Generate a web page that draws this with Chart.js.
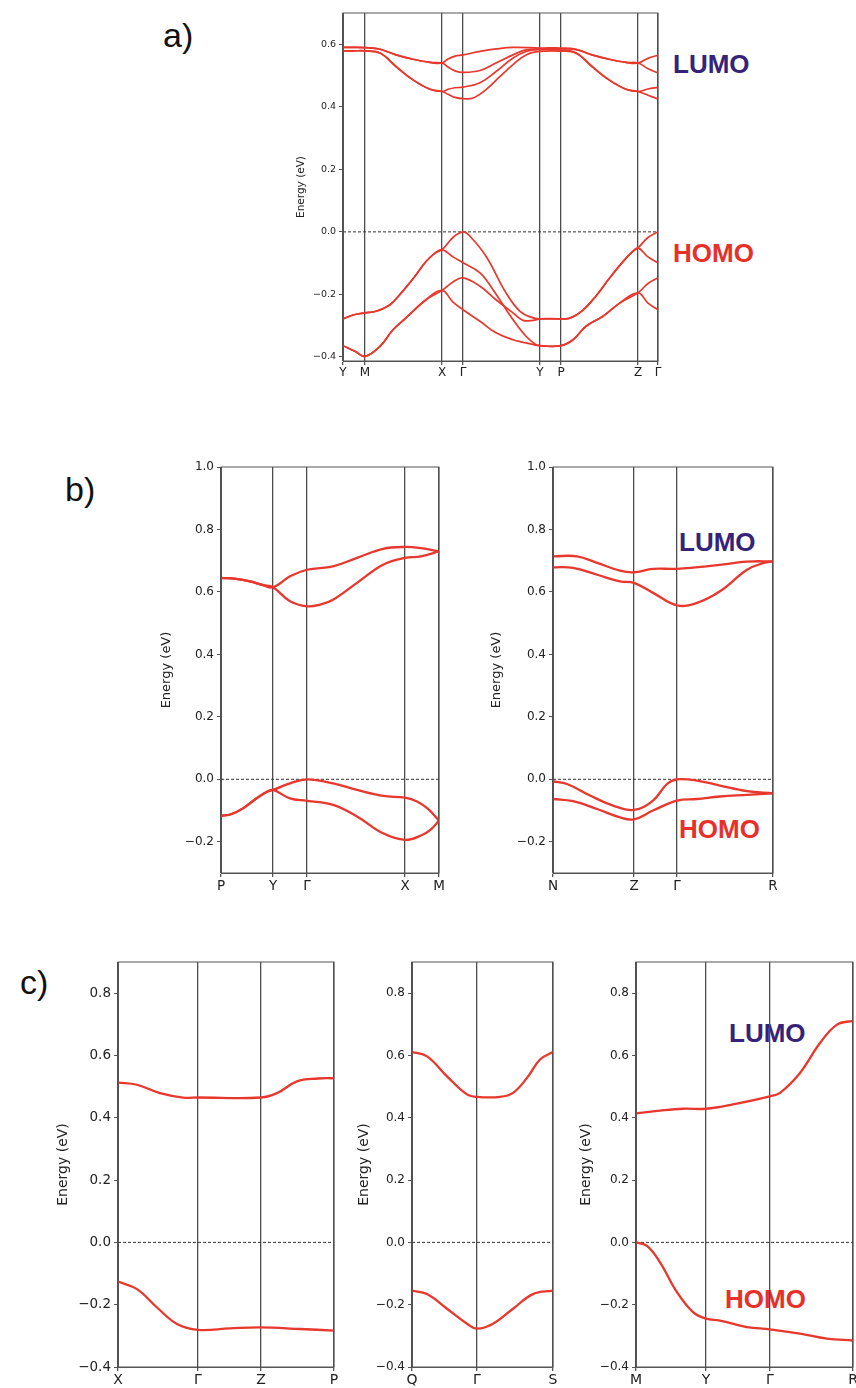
<!DOCTYPE html>
<html><head><meta charset="utf-8">
<script src="https://cdn.jsdelivr.net/npm/chart.js@4"></script>
<style>
html,body{margin:0;padding:0;background:#fff;width:856px;height:1388px;overflow:hidden;position:relative}
.box{position:absolute}
.lab{position:absolute;font-family:'Liberation Sans',Arial,sans-serif;white-space:nowrap;line-height:1}
.lumo{color:#35237a;font-weight:bold;font-size:26px}
.homo{color:#e8302a;font-weight:bold;font-size:26px}
.pl{font-size:34px;color:#111}
</style></head><body>
<div class="lab pl" style="left:163px;top:18px">a)</div>
<div class="lab pl" style="left:65px;top:472px">b)</div>
<div class="lab pl" style="left:20px;top:965px">c)</div>
<div class="lab lumo" style="left:673px;top:51px">LUMO</div>
<div class="lab homo" style="left:673px;top:240px">HOMO</div>
<div class="lab lumo" style="left:679px;top:529px">LUMO</div>
<div class="lab homo" style="left:679px;top:816px">HOMO</div>
<div class="lab lumo" style="left:729px;top:1020px">LUMO</div>
<div class="lab homo" style="left:725px;top:1286px">HOMO</div>
<script>
// ---------- panel a ----------
const kTicksA = [0, 22, 99, 120, 197, 218, 295, 315];
const kLabelsA = ['Y', 'M', 'X', 'Γ', 'Y', 'P', 'Z', 'Γ'];
const yTicksA = [-0.4, -0.2, 0.0, 0.2, 0.4, 0.6];
const lumoA1 = [[0,0.590],[11,0.590],[22,0.589],[37,0.584],[53,0.566],[70,0.552],[87,0.542],[99,0.540],[105,0.553],[112,0.562],[120,0.566],[137,0.577],[153,0.585],[170,0.590],[197,0.588],[218,0.588],[233,0.584],[249,0.566],[266,0.552],[283,0.542],[295,0.540],[305,0.555],[315,0.565]];
const lumoA2 = [[0,0.590],[11,0.590],[22,0.589],[37,0.584],[53,0.566],[70,0.552],[87,0.542],[99,0.540],[105,0.527],[112,0.515],[120,0.510],[137,0.516],[153,0.540],[170,0.566],[183,0.582],[197,0.585],[218,0.585],[233,0.583],[249,0.566],[266,0.552],[283,0.542],[295,0.540],[305,0.522],[315,0.508]];
const lumoA3 = [[0,0.579],[11,0.579],[22,0.579],[37,0.572],[53,0.529],[70,0.486],[87,0.456],[99,0.449],[105,0.456],[112,0.461],[120,0.463],[137,0.477],[153,0.513],[170,0.556],[183,0.577],[197,0.583],[218,0.582],[233,0.572],[249,0.529],[266,0.486],[283,0.456],[295,0.449],[305,0.457],[315,0.462]];
const lumoA4 = [[0,0.579],[11,0.579],[22,0.579],[37,0.572],[53,0.529],[70,0.486],[87,0.456],[99,0.449],[105,0.440],[112,0.430],[120,0.426],[130,0.428],[143,0.455],[157,0.497],[170,0.535],[183,0.566],[197,0.577],[218,0.578],[233,0.572],[249,0.529],[266,0.486],[283,0.456],[295,0.449],[305,0.437],[315,0.425]];
const homoA1 = [[0,-0.278],[11,-0.265],[22,-0.259],[33,-0.254],[47,-0.233],[57,-0.200],[70,-0.150],[83,-0.095],[92,-0.068],[99,-0.057],[110,-0.018],[120,0.0],[127,-0.014],[143,-0.078],[163,-0.195],[177,-0.254],[190,-0.275],[197,-0.278],[218,-0.278],[227,-0.276],[240,-0.250],[253,-0.205],[266,-0.150],[280,-0.095],[289,-0.065],[295,-0.051],[305,-0.018],[315,0.0]];
const homoA2 = [[0,-0.278],[11,-0.265],[22,-0.259],[33,-0.254],[47,-0.233],[57,-0.200],[70,-0.150],[83,-0.095],[92,-0.068],[99,-0.057],[110,-0.080],[120,-0.099],[137,-0.131],[150,-0.185],[170,-0.281],[183,-0.334],[193,-0.361],[197,-0.364],[218,-0.364],[230,-0.345],[243,-0.302],[260,-0.270],[277,-0.227],[295,-0.195],[305,-0.228],[315,-0.249]];
const homoA3 = [[0,-0.364],[12,-0.382],[22,-0.398],[37,-0.366],[50,-0.313],[63,-0.275],[83,-0.217],[99,-0.187],[110,-0.160],[120,-0.147],[137,-0.174],[153,-0.217],[170,-0.259],[180,-0.283],[190,-0.283],[197,-0.278],[218,-0.278],[227,-0.276],[240,-0.250],[253,-0.205],[266,-0.150],[280,-0.095],[289,-0.065],[295,-0.051],[305,-0.080],[315,-0.099]];
const homoA4 = [[0,-0.364],[12,-0.382],[22,-0.398],[37,-0.366],[50,-0.313],[63,-0.275],[83,-0.217],[99,-0.187],[110,-0.225],[120,-0.249],[137,-0.286],[153,-0.323],[170,-0.345],[183,-0.355],[197,-0.364],[218,-0.364],[230,-0.345],[243,-0.302],[260,-0.270],[277,-0.227],[295,-0.195],[305,-0.165],[315,-0.147]];

// ---------- panel b (left) ----------
const kTicksBL = [0, 52, 86, 184, 218];
const kLabelsBL = ['P', 'Y', 'Γ', 'X', 'M'];
const yTicksB = [-0.2, 0.0, 0.2, 0.4, 0.6, 0.8, 1.0];
const lumoBL1 = [[0,0.645],[15,0.642],[29,0.634],[42,0.622],[52,0.615],[69,0.650],[86,0.671],[112,0.682],[136,0.709],[162,0.738],[184,0.744],[200,0.740],[218,0.730]];
const lumoBL2 = [[0,0.645],[15,0.642],[29,0.634],[42,0.622],[52,0.615],[69,0.570],[86,0.554],[100,0.560],[112,0.575],[136,0.629],[162,0.687],[184,0.709],[200,0.714],[218,0.730]];
const homoBL1 = [[0,-0.117],[10,-0.112],[22,-0.093],[36,-0.060],[46,-0.040],[52,-0.034],[69,-0.013],[86,0.0],[112,-0.013],[136,-0.034],[162,-0.053],[184,-0.059],[196,-0.071],[207,-0.095],[218,-0.132]];
const homoBL2 = [[0,-0.117],[10,-0.112],[22,-0.093],[36,-0.060],[46,-0.040],[52,-0.034],[69,-0.061],[86,-0.069],[112,-0.082],[136,-0.119],[162,-0.173],[184,-0.194],[200,-0.180],[210,-0.160],[218,-0.132]];

// ---------- panel b (right) ----------
const kTicksBR = [0, 81, 124, 220];
const kLabelsBR = ['N', 'Z', 'Γ', 'R'];
const lumoBR1 = [[0,0.714],[24,0.714],[44,0.693],[67,0.668],[81,0.663],[100,0.674],[124,0.674],[160,0.684],[194,0.697],[220,0.698]];
const lumoBR2 = [[0,0.679],[20,0.677],[44,0.655],[67,0.634],[81,0.629],[100,0.597],[124,0.557],[144,0.565],[167,0.602],[194,0.671],[210,0.692],[220,0.698]];
const homoBR1 = [[0,-0.007],[14,-0.015],[37,-0.052],[60,-0.084],[81,-0.098],[100,-0.068],[114,-0.015],[124,0.0],[144,-0.004],[167,-0.020],[194,-0.038],[220,-0.045]];
const homoBR2 = [[0,-0.063],[20,-0.070],[44,-0.095],[67,-0.122],[81,-0.128],[100,-0.100],[124,-0.068],[144,-0.063],[167,-0.055],[194,-0.050],[220,-0.045]];

// ---------- panel c ----------
const yTicksC = [-0.4, -0.2, 0.0, 0.2, 0.4, 0.6, 0.8];
const kTicksCL = [0, 80, 143, 216];
const kLabelsCL = ['X', 'Γ', 'Z', 'P'];
const lumoCL = [[0,0.513],[19,0.506],[42,0.479],[65,0.465],[80,0.465],[143,0.465],[159,0.479],[179,0.517],[200,0.526],[216,0.527]];
const homoCL = [[0,-0.126],[19,-0.150],[39,-0.209],[59,-0.262],[80,-0.281],[112,-0.276],[143,-0.273],[182,-0.278],[216,-0.283]];
const kTicksCM = [0, 65, 141];
const kLabelsCM = ['Q', 'Γ', 'S'];
const lumoCM = [[0,0.611],[15,0.597],[35,0.533],[55,0.475],[65,0.467],[88,0.467],[101,0.480],[115,0.528],[128,0.587],[141,0.611]];
const homoCM = [[0,-0.155],[15,-0.166],[35,-0.213],[55,-0.261],[65,-0.277],[81,-0.261],[101,-0.213],[121,-0.166],[141,-0.155]];
const kTicksCR = [0, 70, 134, 217];
const kLabelsCR = ['M', 'Y', 'Γ', 'R'];
const lumoCR = [[0,0.414],[24,0.423],[47,0.429],[70,0.429],[97,0.443],[134,0.469],[144,0.480],[164,0.544],[184,0.640],[201,0.699],[217,0.711]];
const homoCR = [[0,0.0],[11,-0.011],[24,-0.064],[41,-0.160],[57,-0.224],[70,-0.245],[84,-0.251],[111,-0.272],[134,-0.279],[164,-0.293],[191,-0.309],[217,-0.315]];

// ---------- drawing ----------
const RED = '#e8372c';
const fmt = v => v.toFixed(1).replace('-', '\u2212');
const toXY = arr => arr.map(([x, y]) => ({x, y}));

const panels = [
  {rect:[343,13,658,361], titleX:301, yMin:-0.413, yMax:0.70, yTicks:yTicksA, kTicks:kTicksA, kLabels:kLabelsA,
   bands:[lumoA1,lumoA2,lumoA3,lumoA4,homoA1,homoA2,homoA3,homoA4], tickFont:9.5, xFont:12, titleFont:10.5, lw:1.7},
  {rect:[221,467,439,873], titleX:167, yMin:-0.3, yMax:1.0, yTicks:yTicksB, kTicks:kTicksBL, kLabels:kLabelsBL,
   bands:[lumoBL1,lumoBL2,homoBL1,homoBL2], tickFont:12, xFont:13.5, titleFont:13, lw:2.3},
  {rect:[553,467,773,873], titleX:497, yMin:-0.3, yMax:1.0, yTicks:yTicksB, kTicks:kTicksBR, kLabels:kLabelsBR,
   bands:[lumoBR1,lumoBR2,homoBR1,homoBR2], tickFont:12, xFont:13.5, titleFont:13, lw:2.3},
  {rect:[118,962,334,1367], titleX:63, yMin:-0.4, yMax:0.9, yTicks:yTicksC, kTicks:kTicksCL, kLabels:kLabelsCL,
   bands:[lumoCL,homoCL], tickFont:13.5, xFont:14, titleFont:14, lw:2.3},
  {rect:[412,962,553,1367], titleX:364, yMin:-0.4, yMax:0.9, yTicks:yTicksC, kTicks:kTicksCM, kLabels:kLabelsCM,
   bands:[lumoCM,homoCM], tickFont:12, xFont:14, titleFont:14, lw:2.3},
  {rect:[636,962,853,1367], titleX:586, yMin:-0.4, yMax:0.9, yTicks:yTicksC, kTicks:kTicksCR, kLabels:kLabelsCR,
   bands:[lumoCR,homoCR], tickFont:12, xFont:14, titleFont:14, lw:2.3}
];

const framePlugin = {
  id: 'frame',
  afterDatasetsDraw(c) {
    const a = c.chartArea, ctx = c.ctx;
    ctx.save();
    ctx.strokeStyle = '#555'; ctx.lineWidth = 1;
    ctx.strokeRect(a.left, a.top, a.right - a.left, a.bottom - a.top);
    ctx.restore();
  }
};

function build(p) {
  const [L, T, R, B] = p.rect;
  const lh = p.titleFont * 1.2;
  const cLeft = Math.round(p.titleX - lh / 2);
  const padTop = 12, padRight = 14, xH = 30;
  const yW = L - cLeft;
  const div = document.createElement('div');
  div.className = 'box';
  div.style.left = cLeft + 'px';
  div.style.top = (T - padTop) + 'px';
  div.style.width = (R - cLeft + padRight) + 'px';
  div.style.height = (B - T + padTop + xH) + 'px';
  const cv = document.createElement('canvas');
  div.appendChild(cv);
  document.body.appendChild(div);
  const k0 = p.kTicks[0], kN = p.kTicks[p.kTicks.length - 1];
  const datasets = p.bands.map(b => ({
    data: toXY(b), borderColor: RED, borderWidth: p.lw, pointRadius: 0,
    tension: 0.4, fill: false, borderCapStyle: 'round', borderJoinStyle: 'round'
  }));
  datasets.push({data: [{x: k0, y: 0}, {x: kN, y: 0}], borderColor: '#333', borderWidth: 1,
    borderDash: [3, 2], pointRadius: 0, fill: false});
  new Chart(cv, {
    type: 'line',
    data: {datasets},
    plugins: [framePlugin],
    options: {
      responsive: true, maintainAspectRatio: false, animation: false, events: [],
      layout: {padding: {left: 0, top: padTop, right: padRight, bottom: 0}},
      plugins: {legend: {display: false}, tooltip: {enabled: false}},
      scales: {
        x: {
          type: 'linear', min: k0, max: kN,
          afterBuildTicks: s => { s.ticks = p.kTicks.map(v => ({value: v})); },
          afterFit: s => { s.height = xH; },
          ticks: {autoSkip: false, maxRotation: 0, minRotation: 0, padding: 1, color: '#222',
            font: {family: 'DejaVu Sans', size: p.xFont}, callback: (v, i) => p.kLabels[i]},
          grid: {color: '#4d4d4d', lineWidth: 1.3, tickLength: 4, tickColor: '#555', drawOnChartArea: true},
          border: {display: true, color: '#555', width: 1}
        },
        y: {
          type: 'linear', min: p.yMin, max: p.yMax,
          afterBuildTicks: s => { s.ticks = p.yTicks.map(v => ({value: v})); },
          afterFit: s => { s.width = yW; },
          title: {display: true, text: 'Energy (eV)', padding: 0, color: '#222',
            font: {family: 'DejaVu Sans', size: p.titleFont}},
          ticks: {padding: 3, color: '#222', font: {family: 'DejaVu Sans', size: p.tickFont}, callback: v => fmt(v)},
          grid: {drawOnChartArea: false, tickLength: 4, tickColor: '#555'},
          border: {display: true, color: '#555', width: 1}
        }
      }
    }
  });
}
panels.forEach(build);
</script>
</body></html>
